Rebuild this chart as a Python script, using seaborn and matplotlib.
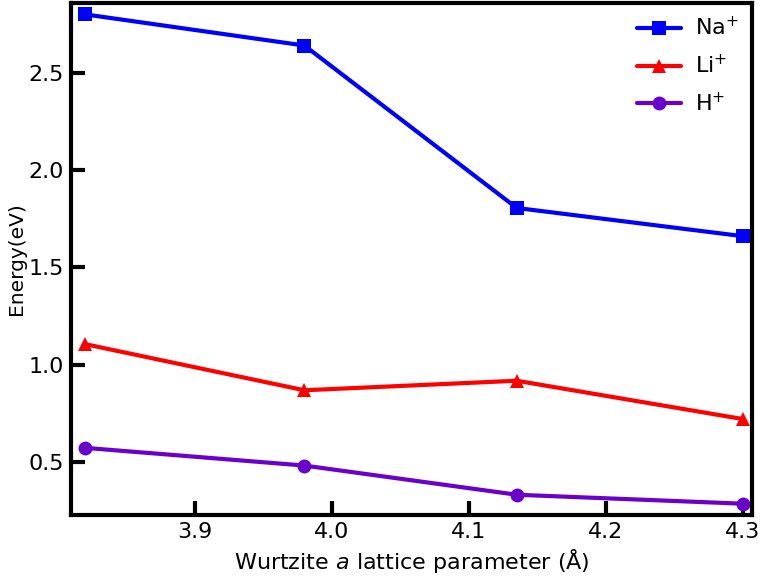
import numpy as np
import pandas as pd
import seaborn as sns
import matplotlib
matplotlib.use("Agg")
import matplotlib.pyplot as plt

# values
lattice_a = [3.82, 3.98, 4.135, 4.30]
e_na = [2.80, 2.64, 1.805, 1.66]
e_li = [1.105, 0.868, 0.917, 0.72]
e_h = [0.572, 0.481, 0.331, 0.285]

series = [
    ("Na$^{+}$", e_na, "#0000FF", "s"),
    ("Li$^{+}$", e_li, "#FF0000", "^"),
    ("H$^{+}$", e_h, "#6A00CC", "o"),
]

sns.set_style("white")
plt.rcParams['font.family'] = ['DejaVu Sans']
plt.rcParams['text.color'] = 'black'
plt.rcParams['axes.labelcolor'] = 'black'
plt.rcParams['xtick.color'] = 'black'
plt.rcParams['ytick.color'] = 'black'

fig = plt.figure(figsize=(7.61, 5.83), dpi=100)
ax = fig.add_axes([0.093, 0.117, 0.895, 0.878])

for name, vals, col, mk in series:
    df = pd.DataFrame({'a': lattice_a, 'E': vals})
    sns.lineplot(data=df, x='a', y='E', ax=ax, color=col, marker=mk,
                 markersize=10, markeredgewidth=0, linewidth=3, label=name)

ax.set_xlim(3.8095, 4.3066)
ax.set_ylim(0.228, 2.859)
ax.set_xticks([3.9, 4.0, 4.1, 4.2, 4.3])
ax.set_yticks([0.5, 1.0, 1.5, 2.0, 2.5])
ax.tick_params(direction='in', length=10, width=3, labelsize=16, pad=5,
               top=False, right=False, left=True, bottom=True)
for sp in ax.spines.values():
    sp.set_linewidth(3)
    sp.set_color('black')

ax.set_xlabel('Wurtzite $a$ lattice parameter (Å)', fontsize=16, labelpad=4)
ax.set_ylabel('Energy(eV)', fontsize=14.5, labelpad=2)

leg = ax.legend(loc='upper right', frameon=False, fontsize=16, handlelength=2.0,
                handletextpad=0.6, labelspacing=0.65, borderaxespad=0.2)

fig.savefig('out.png', dpi=100)
